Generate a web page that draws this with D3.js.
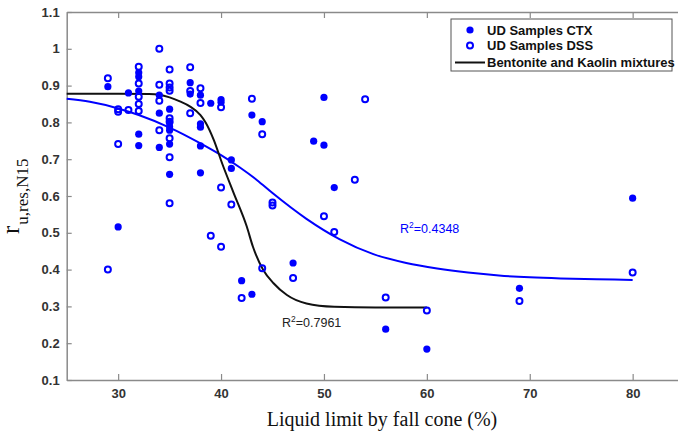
<!DOCTYPE html>
<html lang="en">
    <head>
        <meta charset="utf-8">
        <title>Liquid limit vs r</title>
        <script type="text/javascript" src="https://cdn.jsdelivr.net/npm/d3@7"></script>
        <style type="text/css">
            body { margin: 0; background: #fff; }
        </style>
    </head>
    <body>
        <script type="text/javascript">
        // UD samples, CTX (filled markers)
        var ctxX = [29, 30, 31, 32, 32, 32, 32, 32, 34, 34, 34, 35, 35, 35, 35, 35, 35,
                    37, 37, 38, 38, 38, 38, 38, 39, 40, 40, 41, 41, 42, 43, 43, 44,
                    47, 49, 50, 50, 51, 56, 60, 69, 80];
        var ctxY = [0.897, 0.516, 0.88, 0.935, 0.924, 0.885, 0.768, 0.737, 0.874, 0.825, 0.732,
                    0.836, 0.8, 0.788, 0.779, 0.741, 0.659,
                    0.908, 0.877, 0.874, 0.796, 0.787, 0.736, 0.663, 0.852, 0.862, 0.855,
                    0.698, 0.675, 0.37, 0.82, 0.333, 0.802,
                    0.418, 0.749, 0.868, 0.738, 0.623, 0.238, 0.184, 0.349, 0.594];

        // UD samples, DSS (open markers)
        var dssX = [29, 29, 30, 30, 30, 31, 32, 32, 32, 32, 32, 34, 34, 34, 34,
                    35, 35, 35, 35, 35, 35, 35, 35, 35, 37, 37, 37, 38, 38,
                    39, 40, 40, 40, 41, 42, 43, 44, 44, 45, 45, 47, 50, 51, 53, 54,
                    56, 60, 69, 80];
        var dssY = [0.92, 0.40, 0.836, 0.829, 0.741, 0.834, 0.951, 0.906, 0.87, 0.85, 0.831,
                    1.0, 0.902, 0.859, 0.779,
                    0.944, 0.906, 0.895, 0.886, 0.811, 0.802, 0.757, 0.705, 0.58,
                    0.95, 0.885, 0.825, 0.893, 0.853,
                    0.492, 0.841, 0.623, 0.462, 0.577, 0.323, 0.864, 0.768, 0.404,
                    0.582, 0.574, 0.377, 0.545, 0.502, 0.644, 0.863,
                    0.324, 0.289, 0.315, 0.392];

        // fitted curve, bentonite and kaolin mixtures
        var mixX = [25, 27, 30, 33, 34, 35, 36, 37, 38, 38.5, 39.3, 40.1, 41.2, 42.5, 43.1,
                    44.1, 45.1, 46.4, 48.3, 51, 55, 60];
        var mixY = [0.878, 0.878, 0.878, 0.877, 0.875, 0.868, 0.857, 0.843, 0.82, 0.8, 0.752,
                    0.689, 0.61, 0.517, 0.462, 0.399, 0.363, 0.331, 0.308, 0.299, 0.297, 0.297];

        // fitted curve, UD samples
        var udX = [25, 27.25, 30, 32, 35, 38, 40, 41.8, 43.5, 45, 48.3, 51.5, 54.8, 58, 61,
                   64, 67, 70, 73, 76.5, 80];
        var udY = [0.864, 0.856, 0.838, 0.82, 0.786, 0.743, 0.711, 0.678, 0.643, 0.608, 0.538, 0.483,
                   0.442, 0.418, 0.403, 0.392, 0.384, 0.379, 0.376, 0.374, 0.372];

        var xTicks = [30, 40, 50, 60, 70, 80];
        var yTicks = [0.1, 0.2, 0.3, 0.4, 0.5, 0.6, 0.7, 0.8, 0.9, 1, 1.1];
        var legendLabels = ["UD Samples CTX", "UD Samples DSS", "Bentonite and Kaolin mixtures"];

        var w = 678;
        var h = 438;
        var plotL = 66.7, plotT = 12, plotB = 380;
        var blue = "#0000ff";
        var axisGray = "#8a8a8a";

        var svg = d3.select("body")
                    .append("svg")
                    .attr("width", w)
                    .attr("height", h);

        var x = d3.scaleLinear().domain([25, 85]).range([plotL, plotL + 60 * 10.29]);
        var y = d3.scaleLinear().domain([0.1, 1.1]).range([plotB, plotT]);

        // box / axes, MATLAB style ticks pointing inwards
        var xAxisB = svg.append("g")
            .attr("transform", "translate(0," + plotB + ")")
            .call(d3.axisBottom(x).tickValues(xTicks).tickSizeInner(-6).tickSizeOuter(0).tickPadding(9));
        var xAxisT = svg.append("g")
            .attr("transform", "translate(0," + plotT + ")")
            .call(d3.axisTop(x).tickValues(xTicks).tickSizeInner(-6).tickSizeOuter(0).tickFormat(""));
        var yAxisL = svg.append("g")
            .attr("transform", "translate(" + plotL + ",0)")
            .call(d3.axisLeft(y).tickValues(yTicks).tickSizeInner(-5).tickSizeOuter(0).tickPadding(7)
                  .tickFormat(function(d) { return String(+d.toFixed(1)); }));

        [xAxisB, xAxisT, yAxisL].forEach(function(g) {
            g.select(".domain").attr("stroke", axisGray).attr("stroke-width", 1.5);
            g.selectAll(".tick line").attr("stroke", axisGray).attr("stroke-width", 1.2);
            g.selectAll(".tick text")
                .attr("fill", "#333")
                .attr("font-family", "Arial, 'Liberation Sans', sans-serif")
                .attr("font-weight", "bold")
                .attr("font-size", "13px");
        });

        var line = d3.line()
            .x(function(d) { return x(d[0]); })
            .y(function(d) { return y(d[1]); })
            .curve(d3.curveMonotoneX);

        svg.append("path")
            .datum(d3.zip(udX, udY))
            .attr("d", line)
            .attr("fill", "none")
            .attr("stroke", blue)
            .attr("stroke-width", 2);

        svg.append("path")
            .datum(d3.zip(mixX, mixY))
            .attr("d", line)
            .attr("fill", "none")
            .attr("stroke", "#111")
            .attr("stroke-width", 2);

        svg.selectAll("circle.ctx")
           .data(d3.zip(ctxX, ctxY))
           .enter()
           .append("circle")
           .attr("class", "ctx")
           .attr("cx", function(d) { return x(d[0]); })
           .attr("cy", function(d) { return y(d[1]); })
           .attr("r", 3.6)
           .attr("fill", blue);

        svg.selectAll("circle.dss")
           .data(d3.zip(dssX, dssY))
           .enter()
           .append("circle")
           .attr("class", "dss")
           .attr("cx", function(d) { return x(d[0]); })
           .attr("cy", function(d) { return y(d[1]); })
           .attr("r", 3)
           .attr("fill", "none")
           .attr("stroke", blue)
           .attr("stroke-width", 2);

        // R^2 notes
        function rsq(px, py, val, col) {
            var t = svg.append("text")
                .attr("x", px).attr("y", py)
                .attr("fill", col)
                .attr("font-family", "Arial, 'Liberation Sans', sans-serif")
                .attr("font-size", "12.5px");
            t.append("tspan").text("R");
            t.append("tspan").attr("dy", -5).attr("font-size", "8.5px").text("2");
            t.append("tspan").attr("dy", 5).text("=" + val);
        }
        rsq(282, 327, "0.7961", "#222");
        rsq(400, 233, "0.4348", blue);

        // legend
        var lg = svg.append("g");
        lg.append("rect")
          .attr("x", 451).attr("y", 19)
          .attr("width", 221).attr("height", 52)
          .attr("fill", "#fff")
          .attr("stroke", "#555")
          .attr("stroke-width", 1);
        var rowY = [30, 45.5, 62.5];
        lg.append("circle").attr("cx", 470).attr("cy", rowY[0]).attr("r", 3.6).attr("fill", blue);
        lg.append("circle").attr("cx", 470).attr("cy", rowY[1]).attr("r", 3)
          .attr("fill", "none").attr("stroke", blue).attr("stroke-width", 2);
        lg.append("line").attr("x1", 455).attr("x2", 485).attr("y1", rowY[2]).attr("y2", rowY[2])
          .attr("stroke", "#111").attr("stroke-width", 2);
        lg.selectAll("text")
          .data(legendLabels)
          .enter()
          .append("text")
          .text(function(d) { return d; })
          .attr("x", 487)
          .attr("y", function(d, i) { return rowY[i] + 4.5; })
          .attr("font-family", "Arial, 'Liberation Sans', sans-serif")
          .attr("font-weight", "bold")
          .attr("font-size", "13px")
          .attr("fill", "#111");

        // axis titles
        svg.append("text")
           .text("Liquid limit by fall cone (%)")
           .attr("x", 382)
           .attr("y", 426)
           .attr("text-anchor", "middle")
           .attr("font-family", "'Liberation Serif', 'Times New Roman', serif")
           .attr("font-size", "20px")
           .attr("fill", "#111");

        var yl = svg.append("text")
           .attr("transform", "translate(19,234) rotate(-90)")
           .attr("font-family", "'Liberation Serif', 'Times New Roman', serif")
           .attr("fill", "#111");
        yl.append("tspan").attr("font-size", "25px").text("r");
        yl.append("tspan").attr("font-size", "17px").attr("dy", 9).attr("dx", 1).text("u,res,N15");
        </script>
    </body>
</html>
